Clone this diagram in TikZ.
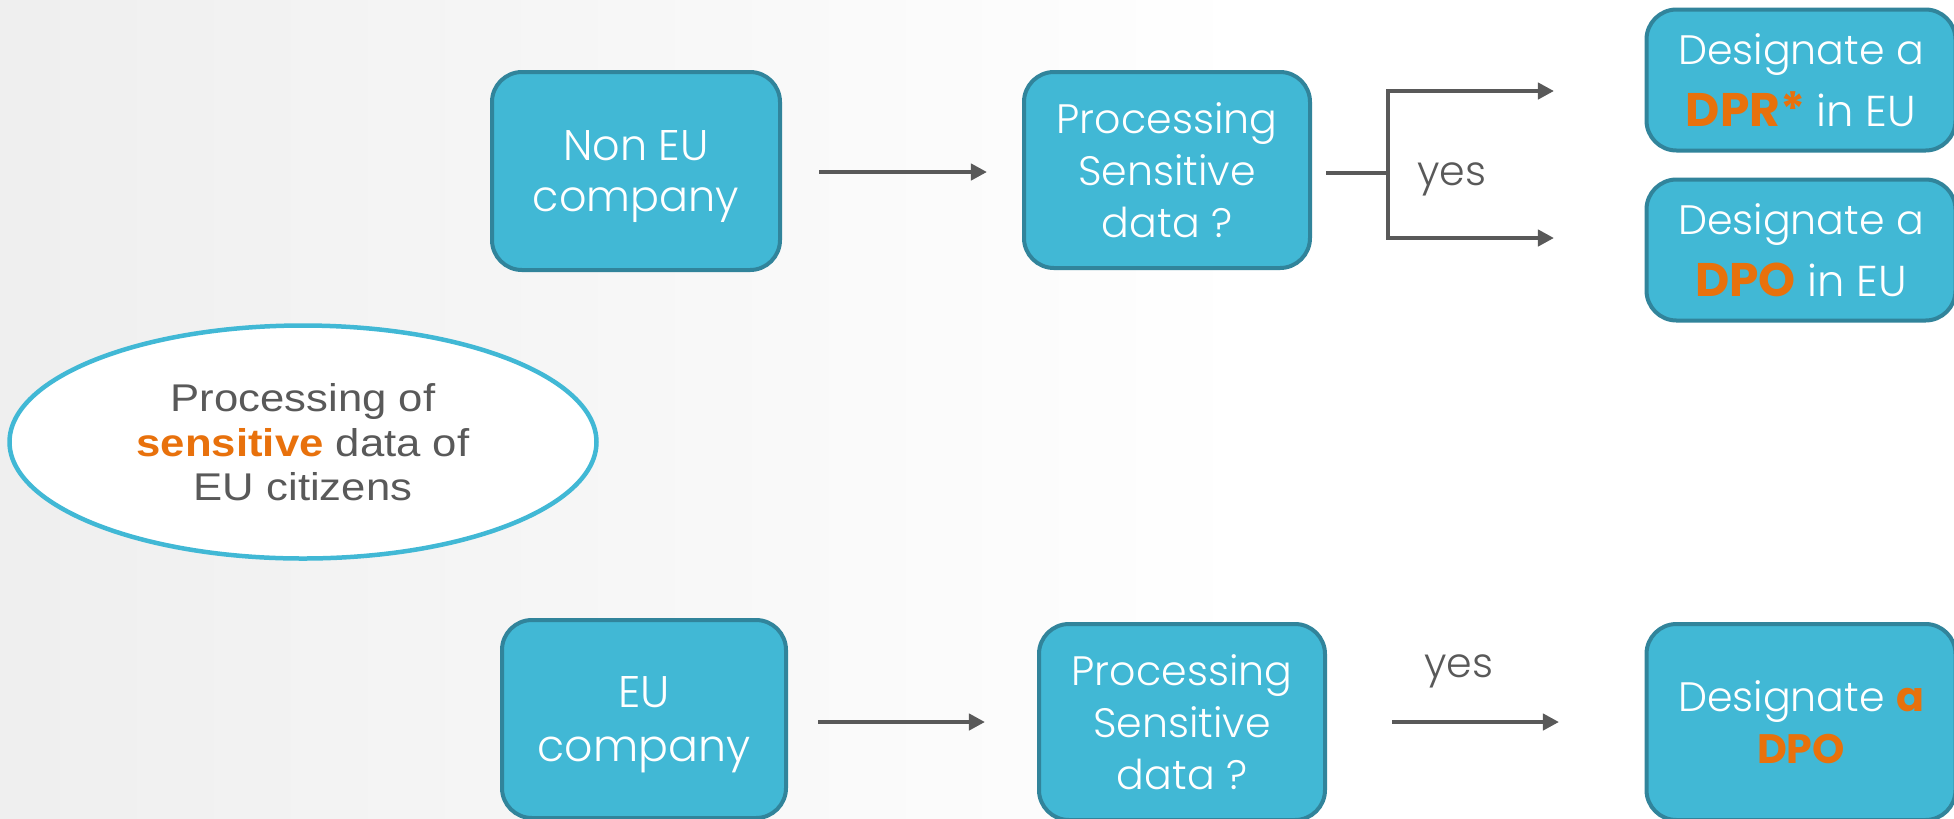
\documentclass[tikz,border=0pt]{standalone}
\usepackage{fontspec}
\usetikzlibrary{shapes.geometric,arrows.meta}

% Geometric sans for the flow boxes, Arial-like sans for the oval
\IfFontExistsTF{Poppins Light}
  {\newfontfamily\gothic{Poppins Light}}
  {\newfontfamily\gothic{Poppins}}
\newfontfamily\gothicbf{Poppins}
\newfontfamily\arialx{Liberation Sans}[FakeStretch=1.13]

\definecolor{boxfill}{HTML}{41B8D5}
\definecolor{boxline}{HTML}{31849B}
\definecolor{accent}{HTML}{E8710C}
\definecolor{ink}{HTML}{595959}
\definecolor{bgleft}{HTML}{E2E2E2}

\pgfdeclarehorizontalshading{pagebg}{100bp}{%
  color(0bp)=(bgleft); color(57bp)=(white); color(100bp)=(white)}

\newcommand{\hi}[1]{{\gothicbf\bfseries\color{accent}#1}}

\tikzset{
  flowbox/.style={rectangle, rounded corners=3mm, fill=boxfill, draw=boxline,
    line width=0.4mm, text=white, align=center, inner sep=0pt, text depth=0pt,
    font=\gothic\fontsize{11.7}{14.8}\selectfont},
  flowarrow/.style={draw=ink, line width=0.45mm, line join=miter,
    -{Triangle[length=4.6pt,width=4.6pt]}},
  flowline/.style={draw=ink, line width=0.45mm},
  answer/.style={anchor=base, text=ink, inner sep=0pt,
    font=\gothic\fontsize{11.7}{14}\selectfont},
  scope/.style={ellipse, fill=white, draw=boxfill, line width=0.45mm,
    inner sep=0pt, align=center, text=ink, text depth=0pt,
    font=\arialx\fontsize{11}{12.7}\selectfont},
}

\begin{document}
\begin{tikzpicture}[x=0.1mm, y=-0.1mm]
  \useasboundingbox (0,0) rectangle (1954,818);
  \fill[shading=pagebg] (0,0) rectangle (1954,818);

  % central statement
  \node[scope, minimum width=58.7mm, minimum height=23.3mm] (scopeoval) at (303,442)
    {Processing of\\{\bfseries\color{accent}sensitive} data of\\EU citizens};

  % non-EU branch
  \node[flowbox, minimum width=28.8mm, minimum height=19.8mm,
        font=\gothic\fontsize{12.2}{14.5}\selectfont] (noneu) at (636,171)
    {Non EU\\company};
  \node[flowbox, minimum width=28.6mm, minimum height=19.6mm] (procA) at (1167,170)
    {Processing\\Sensitive\\data ?};
  \node[flowbox, minimum width=30.9mm, minimum height=14.1mm,
        font=\gothic\fontsize{11.7}{17.9}\selectfont] (dpr) at (1801,80)
    {Designate a\\{\fontsize{13.4}{17.9}\selectfont\hi{DPR*}} {\fontsize{12.3}{17.9}\selectfont in EU}};
  \node[flowbox, minimum width=30.9mm, minimum height=14.1mm,
        font=\gothic\fontsize{11.7}{17.9}\selectfont] (dpoA) at (1801,250)
    {Designate a\\{\fontsize{13.4}{17.9}\selectfont\hi{DPO}} {\fontsize{12.3}{17.9}\selectfont in EU}};

  \coordinate (a1s) at (819,172);
  \coordinate (a1e) at (987,172);
  \draw[flowarrow] (a1s) -- (a1e);

  \coordinate (stub) at (1326,173);
  \coordinate (fork) at (1388,173);
  \coordinate (forkT) at (1388,91);
  \coordinate (forkB) at (1388,238);
  \coordinate (endT) at (1554,91);
  \coordinate (endB) at (1554,238);
  \draw[flowline] (stub) -- (fork);
  \draw[flowarrow, {Triangle[length=4.6pt,width=4.6pt]}-{Triangle[length=4.6pt,width=4.6pt]}]
    (endT) -- (forkT) -- (forkB) -- (endB);
  \node[answer] (yesA) at (1452,185) {yes};

  % EU branch
  \node[flowbox, minimum width=28.4mm, minimum height=19.8mm,
        font=\gothic\fontsize{12.6}{15.6}\selectfont] (eu) at (644,719)
    {EU\\company};
  \node[flowbox, minimum width=28.6mm, minimum height=19.6mm] (procB) at (1182,722)
    {Processing\\Sensitive\\data ?};
  \node[flowbox, minimum width=30.9mm, minimum height=19.6mm] (dpoB) at (1801,722)
    {Designate \hi{a}\\\hi{DPO}};

  \coordinate (b1s) at (818,722);
  \coordinate (b1e) at (985,722);
  \draw[flowarrow] (b1s) -- (b1e);
  \coordinate (b2s) at (1392,722);
  \coordinate (b2e) at (1559,722);
  \draw[flowarrow] (b2s) -- (b2e);
  \node[answer] (yesB) at (1459,677) {yes};
\end{tikzpicture}
\end{document}
